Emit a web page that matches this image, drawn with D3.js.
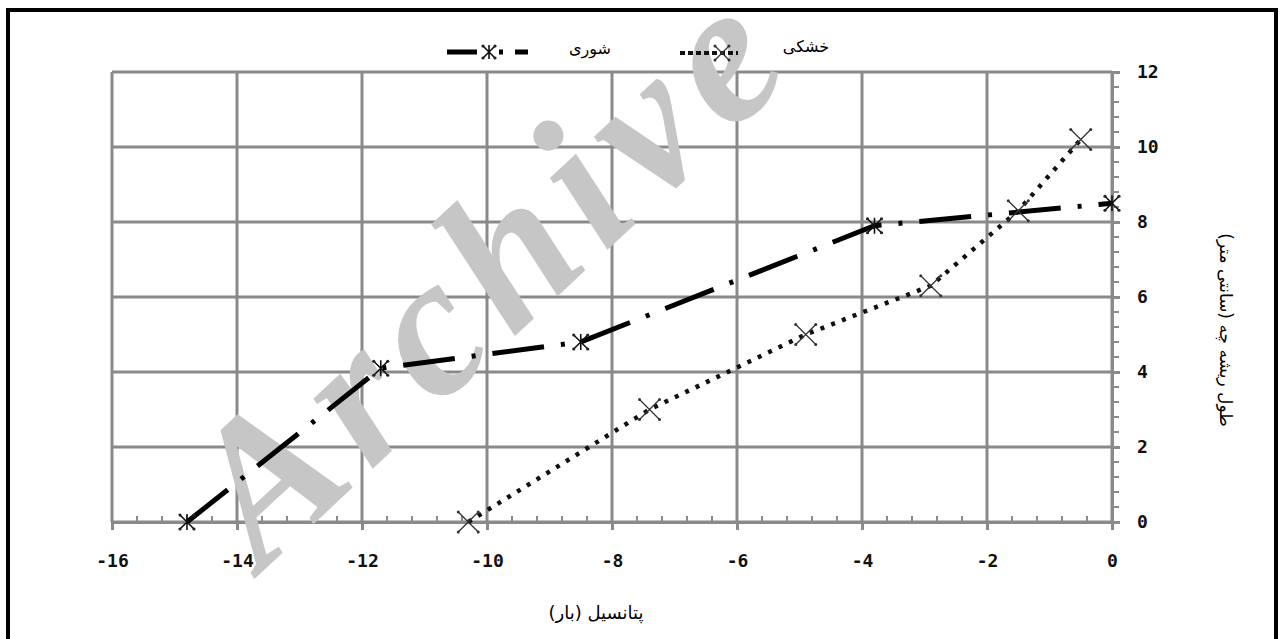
<!DOCTYPE html>
<html>
<head>
<meta charset="utf-8">
<script src="https://cdn.jsdelivr.net/npm/d3@7"></script>
<style>
  body { margin: 0; background: #fff; }
  svg { display: block; }
  .tick text { font-family: "DejaVu Sans Mono", monospace; font-weight: bold; font-size: 18px; fill: #111; }
  .fa { font-family: "DejaVu Sans", sans-serif; fill: #000; }
</style>
</head>
<body>
<div id="container"></div>
<script>
// chart data
var xTicks = [-16, -14, -12, -10, -8, -6, -4, -2, 0];
var yTicks = [0, 2, 4, 6, 8, 10, 12];

var salinityX = [-14.8, -11.7, -8.5, -3.8, 0];
var salinityY = [0, 4.1, 4.8, 7.9, 8.5];

var droughtX = [-10.3, -7.4, -4.9, -2.9, -1.5, -0.5];
var droughtY = [0, 3.0, 5.0, 6.3, 8.3, 10.2];

var seriesNames = ["شوری", "خشکی"];
var xTitle = "پتانسیل (بار)";
var yTitle = "طول ریشه چه (سانتی متر)";

var W = 1281, H = 639;
var margin = {left: 112, top: 72, right: 1112, bottom: 522};

var svg = d3.select("#container").append("svg")
  .attr("width", W).attr("height", H);

// outer frame
svg.append("rect")
  .attr("x", 8).attr("y", 10)
  .attr("width", 1268).attr("height", 660)
  .attr("fill", "#fff").attr("stroke", "#000").attr("stroke-width", 4);

var x = d3.scaleLinear().domain([-16, 0]).range([margin.left, margin.right]);
var y = d3.scaleLinear().domain([0, 12]).range([margin.bottom, margin.top]);

var gridColor = "#8a8a8a";

// grid
var grid = svg.append("g");
grid.selectAll(".vg").data(xTicks).enter().append("line")
  .attr("x1", d => x(d)).attr("x2", d => x(d))
  .attr("y1", margin.top).attr("y2", margin.bottom)
  .attr("stroke", gridColor).attr("stroke-width", 3);
grid.selectAll(".hg").data(yTicks).enter().append("line")
  .attr("x1", margin.left).attr("x2", margin.right)
  .attr("y1", d => y(d)).attr("y2", d => y(d))
  .attr("stroke", gridColor).attr("stroke-width", 3);

// minor ticks
var xMinor = d3.range(-16, 0.001, 0.4).filter(v => Math.abs(v / 2 - Math.round(v / 2)) > 0.01);
var yMinor = d3.range(0, 12.001, 0.4).filter(v => Math.abs(v / 2 - Math.round(v / 2)) > 0.01);
grid.selectAll(".xm").data(xMinor).enter().append("line")
  .attr("x1", d => x(d)).attr("x2", d => x(d))
  .attr("y1", margin.bottom).attr("y2", margin.bottom - 6)
  .attr("stroke", gridColor).attr("stroke-width", 2);
grid.selectAll(".ym").data(yMinor).enter().append("line")
  .attr("x1", margin.right).attr("x2", margin.right + 7)
  .attr("y1", d => y(d)).attr("y2", d => y(d))
  .attr("stroke", gridColor).attr("stroke-width", 2);

// axes
var xAxis = svg.append("g")
  .attr("transform", "translate(0," + margin.bottom + ")")
  .call(d3.axisBottom(x).tickValues(xTicks).tickSize(8).tickPadding(24).tickFormat(d3.format("d")));
var yAxis = svg.append("g")
  .attr("transform", "translate(" + margin.right + ",0)")
  .call(d3.axisRight(y).tickValues(yTicks).tickSize(8).tickPadding(17).tickFormat(d3.format("d")));
[xAxis, yAxis].forEach(function(a) {
  a.select(".domain").attr("stroke", gridColor).attr("stroke-width", 3);
  a.selectAll(".tick line").attr("stroke", gridColor).attr("stroke-width", 3);
});
xAxis.selectAll(".tick text").text(d => d < 0 ? "-" + Math.abs(d) : d);

// watermark
svg.append("text")
  .attr("transform", "translate(262,572) rotate(-43)")
  .attr("font-family", "Liberation Serif, serif")
  .attr("font-style", "italic").attr("font-weight", "bold")
  .attr("font-size", 200)
  .attr("letter-spacing", 14)
  .attr("fill", "#c6c6c6")
  .text("Archive");

// markers
function asterisk(g, s) {
  g.append("path")
    .attr("d", `M${-s},${-s}L${s},${s}M${-s},${s}L${s},${-s}M0,${-s - 1}L0,${s + 1}`)
    .attr("stroke", "#111").attr("stroke-width", 1.6).attr("fill", "none");
  [[-s, -s], [s, s], [-s, s], [s, -s]].forEach(function(p) {
    g.append("circle").attr("cx", p[0]).attr("cy", p[1]).attr("r", 1.6).attr("fill", "#222");
  });
}
function cross(g, s) {
  g.append("path")
    .attr("d", `M${-s},${-s}L${s},${s}M${-s},${s}L${s},${-s}`)
    .attr("stroke", "#333").attr("stroke-width", 1.3).attr("fill", "none");
  [[-s, -s], [s, s], [-s, s], [s, -s]].forEach(function(p) {
    g.append("circle").attr("cx", p[0]).attr("cy", p[1]).attr("r", 1.5).attr("fill", "#333");
  });
}

var salinity = salinityX.map((v, i) => [v, salinityY[i]]);
var drought = droughtX.map((v, i) => [v, droughtY[i]]);
var line = d3.line().x(d => x(d[0])).y(d => y(d[1]));

svg.append("path").datum(drought)
  .attr("d", line).attr("fill", "none")
  .attr("stroke", "#111").attr("stroke-width", 4.5)
  .attr("stroke-dasharray", "4,7.5");
svg.append("path").datum(salinity)
  .attr("d", line).attr("fill", "none")
  .attr("stroke", "#000").attr("stroke-width", 5)
  .attr("stroke-dasharray", "52,17,4,17");

svg.selectAll(".dm").data(drought).enter().append("g")
  .attr("transform", d => `translate(${x(d[0])},${y(d[1])})`)
  .each(function() { cross(d3.select(this), 10); });
svg.selectAll(".sm").data(salinity).enter().append("g")
  .attr("transform", d => `translate(${x(d[0])},${y(d[1])})`)
  .each(function() { asterisk(d3.select(this), 7); });

// legend
var leg = svg.append("g");
leg.append("line").attr("x1", 447).attr("x2", 528).attr("y1", 52).attr("y2", 52)
  .attr("stroke", "#000").attr("stroke-width", 5).attr("stroke-dasharray", "30,22,4,12,14,40");
asterisk(leg.append("g").attr("transform", "translate(489,52)"), 6);
leg.append("text").attr("class", "fa").attr("x", 590).attr("y", 54)
  .attr("text-anchor", "middle").attr("font-size", 16).text(seriesNames[0]);
leg.append("line").attr("x1", 680).attr("x2", 738).attr("y1", 53).attr("y2", 53)
  .attr("stroke", "#111").attr("stroke-width", 4).attr("stroke-dasharray", "5,3");
cross(leg.append("g").attr("transform", "translate(722,53)"), 7);
leg.append("text").attr("class", "fa").attr("x", 806).attr("y", 52)
  .attr("text-anchor", "middle").attr("font-size", 16).text(seriesNames[1]);

// axis titles
svg.append("text").attr("class", "fa")
  .attr("x", 596).attr("y", 619)
  .attr("text-anchor", "middle").attr("font-size", 18)
  .text(xTitle);
svg.append("text").attr("class", "fa")
  .attr("transform", "translate(1220,330) rotate(90)")
  .attr("text-anchor", "middle").attr("font-size", 17)
  .text(yTitle);
</script>
</body>
</html>
